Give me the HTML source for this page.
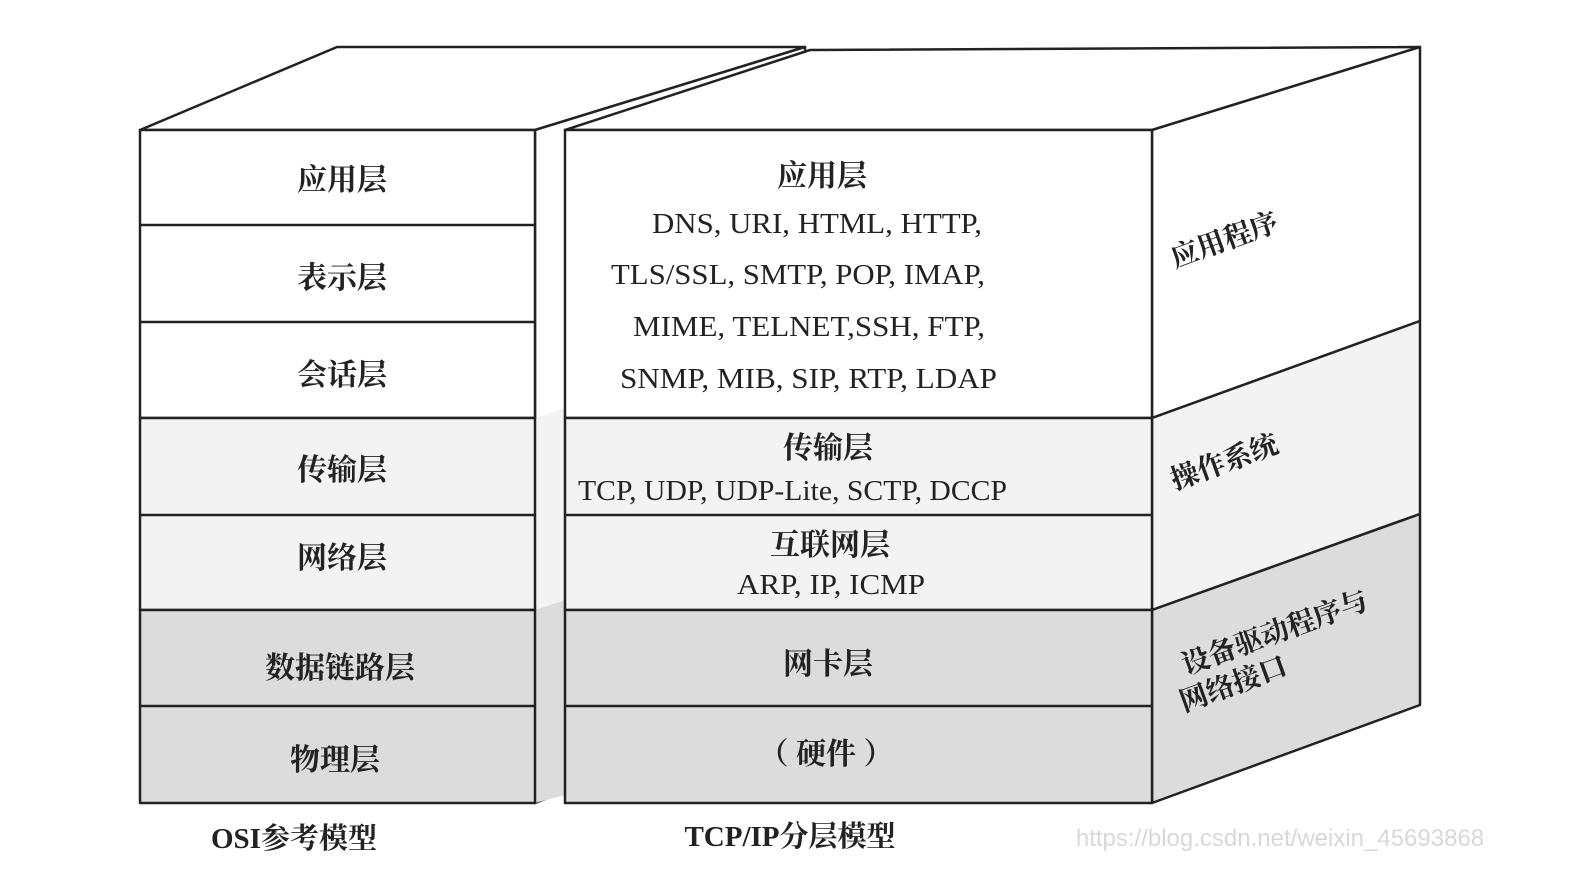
<!DOCTYPE html>
<html><head><meta charset="utf-8"><style>
html,body{margin:0;padding:0;background:#fff;}
svg{display:block;}
text{font-family:"Liberation Serif","Noto Serif CJK SC",serif;fill:#222;}
</style></head><body>
<svg width="1573" height="873" viewBox="0 0 1573 873" xmlns="http://www.w3.org/2000/svg">
<g stroke="#222" stroke-width="2.5" stroke-linejoin="round">
<polygon points="140,130 337,47 805,47 535,130" fill="#fff"/>
<polygon points="535,130 805,47 805,700 535,803" fill="#fff"/>
<polygon points="535,418 565,408 565,610 535,618" fill="#f3f3f3" stroke="none"/>
<polygon points="535,610 565,600 565,795 535,803" fill="#dcdcdc" stroke="none"/>
<polygon points="565,130 810,50 1420,47 1152,130" fill="#fff"/>
<polygon points="1152,130 1420,47 1420,321 1152,418" fill="#fff"/>
<polygon points="1152,418 1420,321 1420,514 1152,610" fill="#f3f3f3"/>
<polygon points="1152,610 1420,514 1420,705 1152,803" fill="#dcdcdc"/>
<rect x="140" y="130" width="395" height="288" fill="#fff"/>
<rect x="140" y="418" width="395" height="192" fill="#f3f3f3"/>
<rect x="140" y="610" width="395" height="193" fill="#dcdcdc"/>
<line x1="140" y1="225" x2="535" y2="225"/>
<line x1="140" y1="322" x2="535" y2="322"/>
<line x1="140" y1="515" x2="535" y2="515"/>
<line x1="140" y1="706" x2="535" y2="706"/>
<rect x="565" y="130" width="587" height="288" fill="#fff"/>
<rect x="565" y="418" width="587" height="192" fill="#f3f3f3"/>
<rect x="565" y="610" width="587" height="193" fill="#dcdcdc"/>
<line x1="565" y1="515" x2="1152" y2="515"/>
<line x1="565" y1="706" x2="1152" y2="706"/>
</g>
<g font-size="30" text-anchor="middle" font-weight="bold">
<text x="342" y="190">应用层</text>
<text x="342" y="288">表示层</text>
<text x="342" y="385">会话层</text>
<text x="342" y="480">传输层</text>
<text x="342" y="568">网络层</text>
<text x="340" y="678">数据链路层</text>
<text x="335" y="770">物理层</text>
<text x="822" y="186">应用层</text>
<text x="828" y="458">传输层</text>
<text x="830" y="555">互联网层</text>
<text x="828" y="674">网卡层</text>
<text x="826" y="764">（ 硬件 ）</text>
</g>
<g font-size="29" lengthAdjust="spacingAndGlyphs">
<text x="652" y="233" textLength="330" lengthAdjust="spacingAndGlyphs">DNS, URI, HTML, HTTP,</text>
<text x="611" y="284" textLength="374" lengthAdjust="spacingAndGlyphs">TLS/SSL, SMTP, POP, IMAP,</text>
<text x="633" y="336" textLength="352" lengthAdjust="spacingAndGlyphs">MIME, TELNET,SSH, FTP,</text>
<text x="620" y="388" textLength="377" lengthAdjust="spacingAndGlyphs">SNMP, MIB, SIP, RTP, LDAP</text>
<text x="578" y="500" textLength="429" lengthAdjust="spacingAndGlyphs">TCP, UDP, UDP-Lite, SCTP, DCCP</text>
<text x="737" y="594" textLength="188" lengthAdjust="spacingAndGlyphs">ARP, IP, ICMP</text>
</g>
<g font-size="28" font-weight="bold">
<text transform="translate(1175,268) rotate(-20)">应用程序</text>
<text transform="translate(1175,490) rotate(-20)">操作系统</text>
<text transform="translate(1186,675) rotate(-20)">设备驱动程序与</text>
<text transform="translate(1184,712) rotate(-20)">网络接口</text>
</g>
<g font-size="29" font-weight="bold" text-anchor="middle">
<text x="294" y="848">OSI参考模型</text>
<text x="790" y="846">TCP/IP分层模型</text>
</g>
<text x="1280" y="846" font-size="24" text-anchor="middle" style="fill:#d8d8d8;font-family:'Liberation Sans',sans-serif">https://blog.csdn.net/weixin_45693868</text>
</svg>
</body></html>
